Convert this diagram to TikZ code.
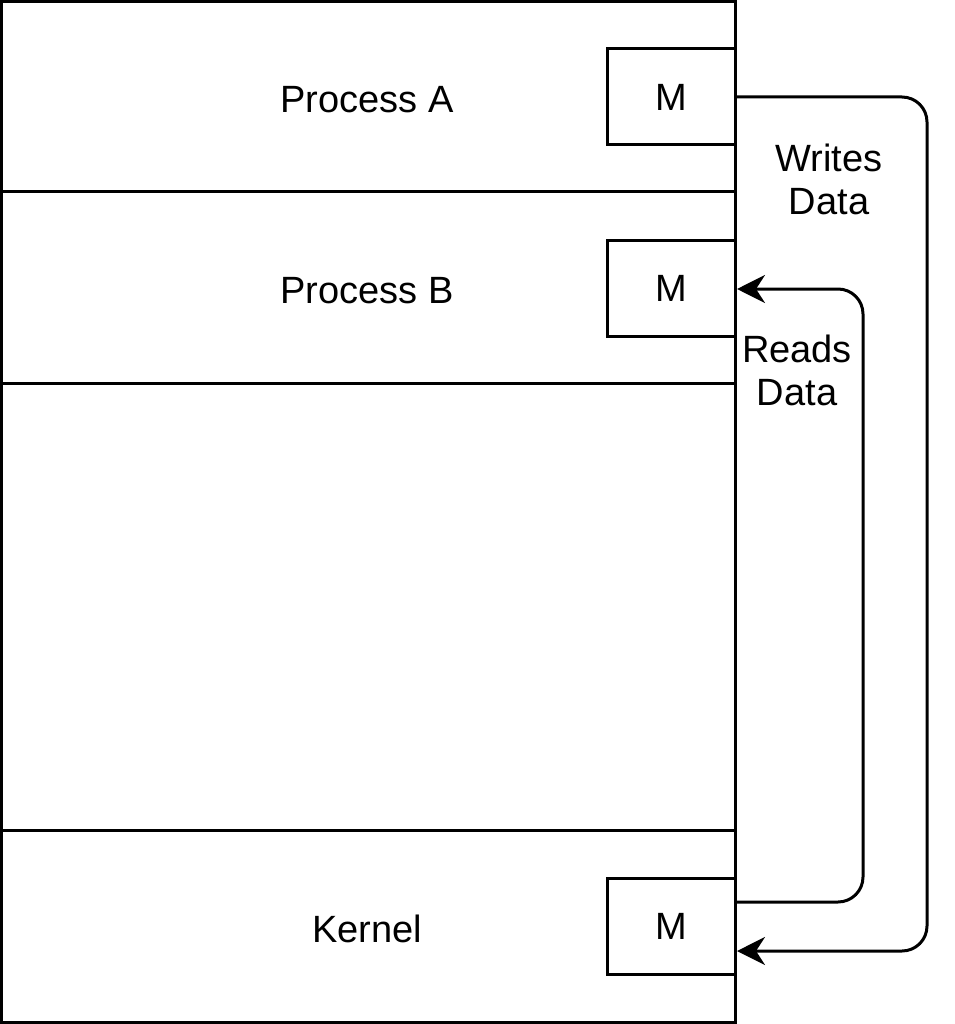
\documentclass[tikz,border=0pt]{standalone}
\usepackage{fontspec}
\setmainfont{Liberation Sans}
\usetikzlibrary{arrows.meta}
\begin{document}
\begin{tikzpicture}[x=1pt,y=-1pt,
  lbl/.style={font=\fontsize{38}{43}\selectfont, align=center, inner sep=0pt},
  mbox/.style={draw, line width=3pt, minimum width=128pt, minimum height=96pt, inner sep=0pt, font=\fontsize{38}{43}\selectfont},
  conn/.style={line width=3pt, rounded corners=25pt},
  tip/.style={-{Stealth[length=28pt,width=28pt,inset=9pt]}}]
\useasboundingbox (0,0) rectangle (954,1024);
\draw[line width=3pt] (1.5,1.5) rectangle (735,1022.5);
\coordinate (l1) at (1.5,192); \coordinate (r1) at (735,192);
\coordinate (l2) at (1.5,383); \coordinate (r2) at (735,383);
\coordinate (l3) at (1.5,830); \coordinate (r3) at (735,830);
\draw[line width=3pt] (l1) -- (r1);
\draw[line width=3pt] (l2) -- (r2);
\draw[line width=3pt] (l3) -- (r3);
\node[lbl] (pa) at (367,100) {Process A};
\node[lbl] (pb) at (367,291) {Process B};
\node[lbl] (kn) at (367,929) {Kernel};
\node[mbox] (ma) at (671,97) {M};
\node[mbox] (mb) at (671,288.5) {M};
\node[mbox] (mk) at (671,926.5) {M};
\coordinate (wa) at (735,97);
\coordinate (wk) at (737,951);
\coordinate (rk) at (735,902);
\coordinate (rb) at (737,289);
\draw[conn,tip] (wa) -- (927,97) -- (927,951) -- (wk);
\draw[conn,tip] (rk) -- (863,902) -- (863,289) -- (rb);
\node[lbl] (wl) at (829,179) {Writes\\Data};
\node[lbl] (rl) at (797,370) {Reads\\Data};
\end{tikzpicture}
\end{document}
